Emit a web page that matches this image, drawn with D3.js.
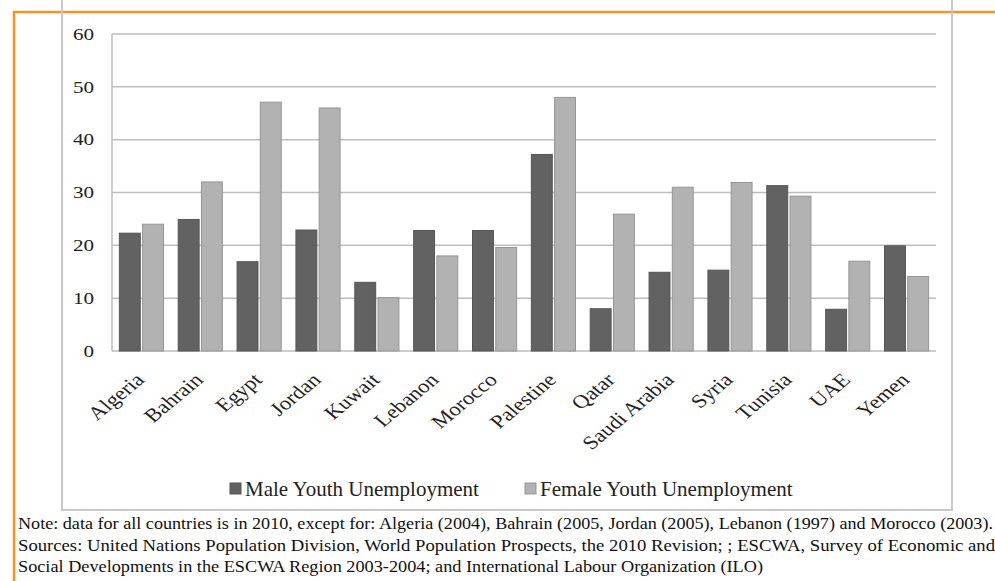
<!DOCTYPE html>
<html><head><meta charset="utf-8">
<script src="https://cdn.jsdelivr.net/npm/d3@7"></script>
<style>body{margin:0;background:#fff}svg{display:block}</style>
</head><body>
<svg id="c" width="995" height="581"></svg>
<script>
const categories = ["Algeria","Bahrain","Egypt","Jordan","Kuwait","Lebanon","Morocco","Palestine","Qatar","Saudi Arabia","Syria","Tunisia","UAE","Yemen"];
const male = [22.3,24.9,16.9,22.9,13.0,22.8,22.8,37.2,8.0,14.9,15.3,31.3,7.9,19.9];
const female = [24.0,32.0,47.1,46.0,10.1,18.0,19.6,48.0,25.9,31.0,31.9,29.3,17.0,14.1];
const seriesNames = ["Male Youth Unemployment","Female Youth Unemployment"];
const yTicks = [0,10,20,30,40,50,60];
const notes = [
 "Note: data for all countries is in 2010, except for: Algeria (2004), Bahrain (2005, Jordan (2005), Lebanon (1997) and Morocco (2003).",
 "Sources: United Nations Population Division, World Population Prospects, the 2010 Revision; ; ESCWA, Survey of Economic and",
 "Social Developments in the ESCWA Region 2003-2004; and International Labour Organization (ILO)"
];

const svg = d3.select("#c");
const serif = "'Liberation Serif','Times New Roman',serif";

// orange border
svg.append("path").attr("d","M14,600 L14,12 L1000,12").attr("fill","none")
  .attr("stroke","#f7931e").attr("stroke-width",2.5);
// chart frame
svg.append("rect").attr("x",62).attr("y",-10).attr("width",890).attr("height",520)
  .attr("fill","none").attr("stroke","#c8c8c8").attr("stroke-width",2);

const x0 = d3.scaleBand().domain(categories).range([112,936]).paddingInner(0.25).paddingOuter(0.125);
const x1 = d3.scaleBand().domain([0,1]).range([0,x0.bandwidth()]).paddingInner(0.1);
const y = d3.scaleLinear().domain([0,60]).range([351,34]);

// gridlines
svg.append("g").selectAll("line").data(yTicks).join("line")
  .attr("x1",112).attr("x2",936).attr("y1",d=>y(d)).attr("y2",d=>y(d))
  .attr("stroke","#bdbdbd").attr("stroke-width",1.5);
svg.append("line").attr("x1",112).attr("x2",112).attr("y1",y(60)).attr("y2",y(0))
  .attr("stroke","#bdbdbd").attr("stroke-width",1.5);

// y labels (horizontally stretched like the reference)
svg.append("g").selectAll("text").data(yTicks).join("text")
  .attr("transform",d=>`translate(94,${y(d)}) scale(1.28,1)`)
  .attr("dy","0.35em").attr("text-anchor","end")
  .attr("font-family",serif).attr("font-size",16.5).attr("fill","#222").text(d=>d);

const fills = ["#626262","#b2b2b2"], strokes = ["#555","#959595"];
const g = svg.append("g").selectAll("g").data(categories).join("g")
  .attr("transform",d=>`translate(${x0(d)},0)`);
g.selectAll("rect").data((d,i)=>[male[i],female[i]]).join("rect")
  .attr("x",(d,j)=>x1(j)).attr("width",x1.bandwidth())
  .attr("y",d=>y(d)).attr("height",d=>y(0)-y(d))
  .attr("fill",(d,j)=>fills[j]).attr("stroke",(d,j)=>strokes[j]).attr("stroke-width",1);

// x labels
svg.append("g").selectAll("text").data(categories).join("text")
  .attr("transform",d=>`translate(${x0(d)+x0.bandwidth()/2+4},381) scale(1.2,1) rotate(-45)`)
  .attr("text-anchor","end").attr("font-family",serif).attr("font-size",19).attr("fill","#222")
  .text(d=>d);

// legend
const lx = [230,525];
seriesNames.forEach((n,i)=>{
  svg.append("rect").attr("x",lx[i]).attr("y",483).attr("width",11).attr("height",11)
    .attr("fill",fills[i]).attr("stroke",strokes[i]);
  svg.append("text").attr("x",lx[i]+15).attr("y",496).attr("font-family",serif)
    .attr("font-size",21).attr("fill","#222").text(n);
});

// notes
const nl = [975,977,745];
notes.forEach((t,i)=>{
  svg.append("text").attr("x",18).attr("y",529+i*21.5).attr("font-family",serif)
    .attr("font-size",16.5).attr("fill","#111")
    .attr("textLength",nl[i]).attr("lengthAdjust","spacingAndGlyphs").text(t);
});
</script>
</body></html>
